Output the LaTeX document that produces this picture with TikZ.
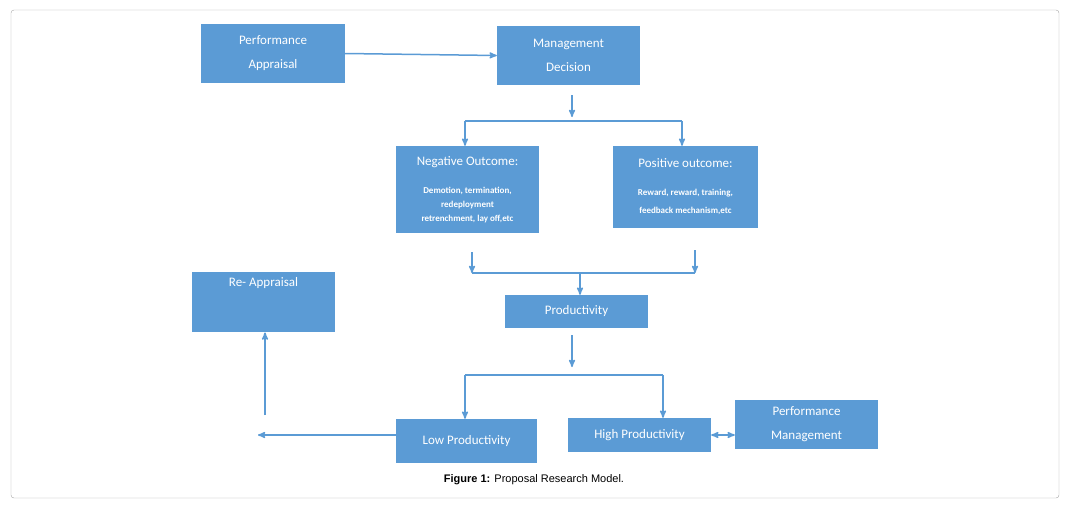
\documentclass[tikz,border=0pt]{standalone}
\usepackage{fontspec}
\setmainfont{Carlito}
\newfontfamily\capfont{Liberation Sans}
\usetikzlibrary{arrows,positioning}
\definecolor{boxblue}{HTML}{5B9BD5}
\newcommand{\smallbf}{\fontsize{9}{11}\selectfont\bfseries}
\tikzset{
	%Define standard arrow tip
	>=stealth',
	%Define style for boxes
	punkt/.style={
		rectangle,
		fill=boxblue,
		text=white,
		inner sep=2pt,
		font=\fontsize{13}{24}\selectfont,
		align=center},
	% Define arrow style
	pil/.style={
		->,
		draw=boxblue,
		line width=1.5pt},
	% plain line
	lin/.style={
		draw=boxblue,
		line width=1.5pt}
}
\begin{document}
\begin{tikzpicture}[x=1pt,y=-1pt]
	\useasboundingbox (0,0) rectangle (1067,507);
	\draw[gray!70, rounded corners=3pt] (11,10) rectangle (1059,498);
	
	\node[punkt, minimum width=144, minimum height=59] (appr) at (273,53.5) {Performance\\Appraisal};
	\node[punkt, minimum width=143, minimum height=59] (decis) at (568.5,55.5) {Management\\Decision};
	\node[punkt, minimum width=143, minimum height=87] (neg) at (467.5,189.5)
		{Negative Outcome:\\[4pt] {\smallbf Demotion, termination,}\\[-10pt] {\smallbf redeployment}\\[-10pt] {\smallbf retrenchment, lay off,etc}};
	\node[punkt, minimum width=145, minimum height=82] (pos) at (685.5,187)
		{Positive outcome:\\[4pt] {\smallbf Reward, reward, training,}\\[-6pt] {\smallbf feedback mechanism,etc}};
	\node[punkt, minimum width=143, minimum height=60, anchor=north] (reappr) at (263.5,272) {Re- Appraisal\\[16pt]};
	\node[punkt, minimum width=143, minimum height=33] (prod) at (576.5,311.5) {Productivity};
	\node[punkt, minimum width=141, minimum height=44] (low) at (466.5,441) {Low Productivity};
	\node[punkt, minimum width=143, minimum height=34] (high) at (639.5,435) {High Productivity};
	\node[punkt, minimum width=143, minimum height=49] (perfm) at (806.5,424.5) {Performance\\Management};
	
	\node[font=\capfont\fontsize{11}{13}\selectfont] (capt) at (534,480) {\textbf{Figure 1:} Proposal Research Model.};
	
	% free ends of the connectors
	\coordinate (d1) at (572,95);   \coordinate (d2) at (572,117);
	\coordinate (s1l) at (465,121); \coordinate (s1r) at (682,121);
	\coordinate (m1l) at (472,252); \coordinate (m1r) at (695,250);
	\coordinate (m1c) at (580,273);
	\coordinate (p1) at (572,335);  \coordinate (p2) at (572,367);
	\coordinate (s2l) at (465,375); \coordinate (s2r) at (663,375);
	\coordinate (lft) at (258,435); \coordinate (up) at (265,415);
	
	\draw[pil] (appr.east) -- (decis.west);
	\draw[pil] (d1) -- (d2);
	\draw[lin] (s1l) -- (s1r);
	\draw[pil] (s1l) -- (neg.north -| s1l);
	\draw[pil] (s1r) -- (pos.north -| s1r);
	\draw[pil] (m1l) -- (m1l |- m1c);
	\draw[pil] (m1r) -- (m1r |- m1c);
	\draw[lin] (m1l |- m1c) -- (m1r |- m1c);
	\draw[pil] (m1c) -- (prod.north -| m1c);
	\draw[pil] (p1) -- (p2);
	\draw[lin] (s2l) -- (s2r);
	\draw[pil] (s2l) -- (low.north -| s2l);
	\draw[pil] (s2r) -- (high.north -| s2r);
	\draw[pil] (low.west |- lft) -- (lft);
	\draw[pil] (up) -- (reappr.south -| up);
	\draw[pil, <->] (high.east) -- (perfm.west |- high.east);
\end{tikzpicture}
\end{document}
